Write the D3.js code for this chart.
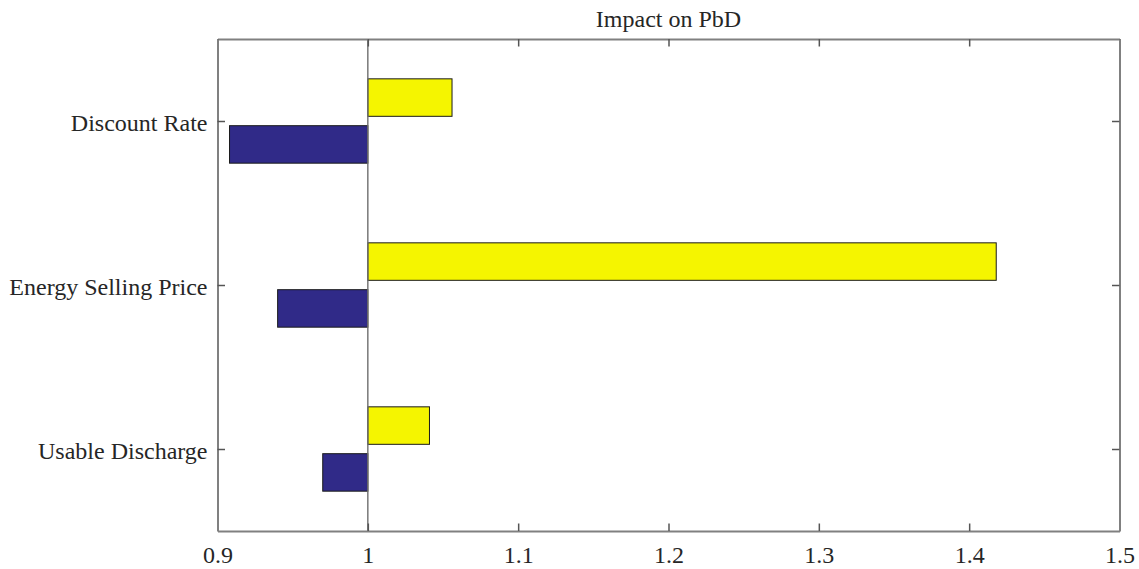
<!DOCTYPE html>
<html>
<head>
<meta charset="utf-8">
<script src="https://cdn.jsdelivr.net/npm/d3@7/dist/d3.min.js"></script>
<style>
  html, body { margin: 0; padding: 0; background: #fff; }
  svg { display: block; }
  text { font-family: "Liberation Serif", "Times New Roman", serif; fill: #262626; }
</style>
</head>
<body>
<svg id="chart" width="1139" height="569"></svg>
<script>
// Sensitivity of PbD to each parameter (ratio to base case = 1)
const categories = ["Usable Discharge", "Energy Selling Price", "Discount Rate"];
const lowValues  = [0.970, 0.940, 0.908];   // decreased parameter
const highValues = [1.041, 1.418, 1.056];   // increased parameter
const xTicks = [0.9, 1, 1.1, 1.2, 1.3, 1.4, 1.5];
const baseValue = 1;
const titleText = "Impact on PbD";

const svg = d3.select("#chart");
const margin = { left: 217.5, right: 19.5, top: 39, bottom: 38 };
const W = 1139, H = 569;
const x0 = margin.left, x1 = W - margin.right;
const y0 = margin.top, y1 = H - margin.bottom;
const fontSize = 24;

const x = d3.scaleLinear().domain([0.9, 1.5]).range([x0, x1]);
// categories sit at positions 1..n, axis limits n±0.5
const y = d3.scaleLinear().domain([0.5, categories.length + 0.5]).range([y1, y0]);

// grouped horizontal bars: two series per category
const nSeries = 2;
const groupWidth = Math.min(0.8, nSeries / (nSeries + 1.5));
const barThick = groupWidth / nSeries * 0.8;
const offsets = [-groupWidth / 4, groupWidth / 4];   // low below, high above
const series = [
  { values: lowValues,  color: "#302a88", off: offsets[0] },
  { values: highValues, color: "#f5f500", off: offsets[1] }
];

const unitPx = Math.abs(y(1) - y(0));

series.forEach(s => {
  svg.append("g").selectAll("rect")
    .data(s.values.map((v, i) => ({ v, pos: i + 1 })))
    .join("rect")
    .attr("x", d => x(Math.min(d.v, baseValue)))
    .attr("width", d => Math.abs(x(d.v) - x(baseValue)))
    .attr("y", d => y(d.pos + s.off) - barThick * unitPx / 2)
    .attr("height", barThick * unitPx)
    .attr("fill", s.color)
    .attr("stroke", "#1a1a1a")
    .attr("stroke-width", 1);
});

// baseline
svg.append("line")
  .attr("x1", x(baseValue)).attr("x2", x(baseValue))
  .attr("y1", y0).attr("y2", y1)
  .attr("stroke", "#6e6e6e").attr("stroke-width", 1.4);

// axes (ticks pointing inward, mirrored on the opposite sides)
const tickLen = 7.5;
const fmt = d => d === 1 ? "1" : d3.format(".1f")(d);

const xBottom = d3.axisBottom(x).tickValues(xTicks).tickFormat(fmt).tickSizeInner(-tickLen).tickSizeOuter(0).tickPadding(15);
const gxb = svg.append("g").attr("transform", `translate(0,${y1})`).call(xBottom);
const xTop = d3.axisTop(x).tickValues(xTicks).tickFormat("").tickSizeInner(-tickLen).tickSizeOuter(0);
const gxt = svg.append("g").attr("transform", `translate(0,${y0})`).call(xTop);

const catPos = categories.map((c, i) => i + 1);
const yLeft = d3.axisLeft(y).tickValues(catPos).tickFormat((d, i) => categories[i]).tickSizeInner(-tickLen).tickSizeOuter(0).tickPadding(10);
const gyl = svg.append("g").attr("transform", `translate(${x0},0)`).call(yLeft);
const yRight = d3.axisRight(y).tickValues(catPos).tickFormat("").tickSizeInner(-tickLen).tickSizeOuter(0);
const gyr = svg.append("g").attr("transform", `translate(${x1},0)`).call(yRight);

[gxb, gxt, gyl, gyr].forEach(g => {
  g.select(".domain").attr("stroke", "#808080").attr("stroke-width", 2);
  g.selectAll(".tick line").attr("stroke", "#555").attr("stroke-width", 1.5);
  g.selectAll(".tick text")
    .attr("font-family", "'Liberation Serif', 'Times New Roman', serif")
    .attr("font-size", fontSize).attr("fill", "#262626");
});
gyl.selectAll(".tick text").attr("dy", "0.4em");

// title
svg.append("text")
  .attr("x", (x0 + x1) / 2).attr("y", 27)
  .attr("text-anchor", "middle")
  .attr("font-size", fontSize)
  .text(titleText);
</script>
</body>
</html>
